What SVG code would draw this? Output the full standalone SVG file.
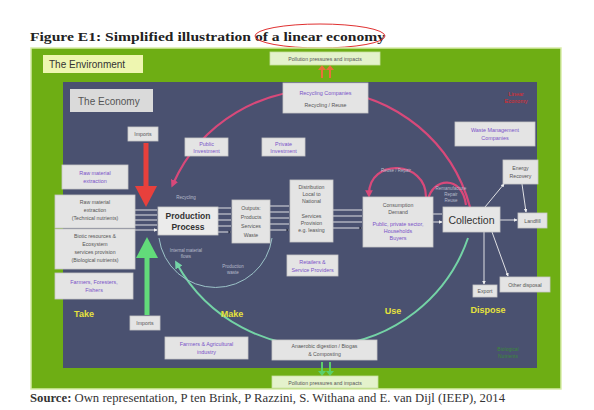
<svg xmlns="http://www.w3.org/2000/svg" width="594" height="410" viewBox="0 0 594 410">
<defs>
<style>
.t{font-family:"Liberation Sans",Arial,sans-serif;}
.box{fill:#e4e4e4;stroke:#c9c9c9;stroke-width:0.8;}
.sm{font-family:"Liberation Sans",Arial,sans-serif;font-size:5.2px;fill:#555;text-anchor:middle;}
.pu{font-family:"Liberation Sans",Arial,sans-serif;font-size:5.4px;fill:#7a52c8;text-anchor:middle;}
.yl{font-family:"Liberation Sans",Arial,sans-serif;font-size:9px;font-weight:bold;fill:#e6e23c;text-anchor:middle;}
.lt{font-family:"Liberation Sans",Arial,sans-serif;font-size:4.5px;fill:#b8bccc;text-anchor:middle;}
.wl{stroke:#f0f0f0;stroke-width:0.9;fill:none;}
.pk{stroke:#d8497a;stroke-width:2.2;fill:none;}
.gn{stroke:#74d3a6;stroke-width:2;fill:none;}
</style>
<marker id="wa" viewBox="0 0 6 6" refX="5" refY="3" markerWidth="4" markerHeight="4" orient="auto"><path d="M0,0L6,3L0,6z" fill="#f0f0f0"/></marker>
<marker id="da" viewBox="0 0 6 6" refX="5" refY="3" markerWidth="3.5" markerHeight="3.5" orient="auto"><path d="M0,0L6,3L0,6z" fill="#2a2f44"/></marker>
<marker id="pa" viewBox="0 0 6 6" refX="3" refY="3" markerWidth="3.5" markerHeight="3.5" orient="auto"><path d="M0,0L6,3L0,6z" fill="#d8497a"/></marker>
<marker id="ga" viewBox="0 0 6 6" refX="3" refY="3" markerWidth="4" markerHeight="4" orient="auto"><path d="M0,0L6,3L0,6z" fill="#74d3a6"/></marker>
</defs>
<rect x="0" y="0" width="594" height="410" fill="#ffffff"/>
<text x="30" y="41" font-family="Liberation Serif,serif" font-size="13.5" font-weight="bold" fill="#222" textLength="355" lengthAdjust="spacingAndGlyphs">Figure E1: Simplified illustration of a linear economy</text>
<ellipse cx="320" cy="36" rx="65" ry="12" fill="none" stroke="#e03030" stroke-width="1"/>
<rect x="31" y="48" width="530" height="341" fill="#6eae14" stroke="#d8eca8" stroke-width="1.5"/>
<rect x="63" y="82" width="474" height="286" fill="#4a5170"/>
<g id="connectors">
<path class="pk" d="M470,207 A158,158 0 0 0 173,184" marker-end="url(#pa)"/>
<path class="gn" d="M468,238 A160,160 0 0 1 177,264" marker-end="url(#ga)"/>
<path d="M159,238 A57,57 0 0 0 272,238" fill="none" stroke="#9cc3c8" stroke-width="1"/>
<path class="pk" d="M426,197 C426,160 369,158 369,194" marker-end="url(#pa)" stroke-width="1.8"/>
<path class="pk" d="M428,200 C432,178 462,174 466,205" stroke-width="1.8"/>
<path d="M146,143 V188" stroke="#e8403c" stroke-width="5" fill="none"/>
<path d="M135,186 L157,186 L146,207 Z" fill="#e8403c"/>
<path d="M147,315 V256" stroke="#62db7a" stroke-width="5" fill="none"/>
<path d="M136,258 L158,258 L147,237 Z" fill="#62db7a"/>
<path d="M322,78 V69 M330,78 V69" stroke="#e8703a" stroke-width="2" fill="none"/>
<path d="M318,70 L322,65 L326,70 Z M326,70 L330,65 L334,70 Z" fill="#e8703a"/>
<path d="M322,362 V372 M330,362 V372" stroke="#5cd06a" stroke-width="2" fill="none"/>
<path d="M318,371 L322,376 L326,371 Z M326,371 L330,376 L334,371 Z" fill="#5cd06a"/>
<g class="wl">
<path d="M135,210 H157 M135,215 H157 M135,220 H157 M135,225 H157 M135,230 H157" marker-end="url(#wa)"/>
<path d="M218,208 H231 M218,214 H231 M218,220 H231 M218,226 H231 M218,232 H231" marker-end="url(#da)"/>
<path d="M270,206 H289 M270,212 H289 M270,218 H289 M270,224 H289 M270,230 H289" marker-end="url(#da)"/>
<path d="M333,210 H362 M333,216 H362 M333,222 H362 M333,228 H362" marker-end="url(#da)"/>
<path d="M433,214 H442 M433,222 H442" marker-end="url(#wa)"/>
<path d="M485,207 L504,184" marker-end="url(#wa)"/>
<path d="M522,184 L526,212" marker-end="url(#wa)"/>
<path d="M500,220 H517" marker-end="url(#wa)"/>
<path d="M484,232 V284" marker-end="url(#wa)"/>
<path d="M492,232 L508,276" marker-end="url(#wa)"/>
</g>
</g>
<g id="the-environment"><rect x="43" y="55" width="100" height="18" fill="#eef6b0"/><text class="t" x="49" y="68" font-size="10" fill="#333">The Environment</text></g>
<g id="the-economy"><rect x="70" y="89" width="83" height="23" fill="#dadada"/><text class="t" x="78" y="105" font-size="10" fill="#555">The Economy</text></g>
<g id="pollution-top"><rect x="270" y="52" width="110" height="13" fill="#e4f2cc" stroke="#c8e0a0" stroke-width="0.8"/><text class="sm" x="325" y="61">Pollution pressures and impacts</text></g>
<g id="recycling-companies"><rect class="box" x="283" y="83" width="85" height="30"/><text class="pu" x="325.5" y="95" font-size="6">Recycling Companies</text><text class="sm" x="325.5" y="107" font-size="6">Recycling / Reuse</text></g>
<g id="linear-label"><text class="t" x="516" y="96" font-size="5.5" fill="#e02828" text-anchor="middle">Linear</text><text class="t" x="516" y="103" font-size="5.5" fill="#e02828" text-anchor="middle">Economy</text></g>
<g id="imports-top"><rect class="box" x="128" y="127" width="30" height="14"/><text class="sm" x="143" y="136">Imports</text></g>
<g id="public-investment"><rect class="box" x="185" y="138" width="43" height="18"/><text class="pu" x="206.5" y="146">Public</text><text class="pu" x="206.5" y="153">Investment</text></g>
<g id="private-investment"><rect class="box" x="262" y="138" width="43" height="18"/><text class="pu" x="283.5" y="146">Private</text><text class="pu" x="283.5" y="153">Investment</text></g>
<g id="waste-management"><rect class="box" x="455" y="122" width="80" height="24"/><text class="pu" x="495" y="132" font-size="6">Waste Management</text><text class="pu" x="495" y="140" font-size="6">Companies</text></g>
<g id="raw-extraction-actors"><rect class="box" x="62" y="165" width="66" height="24"/><text class="pu" x="95" y="175">Raw material</text><text class="pu" x="95" y="183">extraction</text></g>
<g id="raw-extraction"><rect class="box" x="55" y="195" width="80" height="33"/><text class="sm" x="95" y="204">Raw material</text><text class="sm" x="95" y="212">extraction</text><text class="sm" x="95" y="220">(Technical nutrients)</text></g>
<g id="biotic"><rect class="box" x="55" y="229" width="80" height="40"/><text class="sm" x="95" y="238">Biotic resources &amp;</text><text class="sm" x="95" y="246">Ecosystem</text><text class="sm" x="95" y="254">services provision</text><text class="sm" x="95" y="262">(Biological nutrients)</text></g>
<g id="farmers-foresters"><rect class="box" x="55" y="273" width="78" height="26"/><text class="pu" x="94" y="284">Farmers, Foresters,</text><text class="pu" x="94" y="292">Fishers</text></g>
<g id="production"><rect x="158" y="207" width="60" height="28" fill="#ebebeb" stroke="#c9c9c9" stroke-width="0.8"/><text class="t" x="188" y="219" font-size="8.5" font-weight="bold" fill="#333" text-anchor="middle">Production</text><text class="t" x="188" y="230" font-size="8.5" font-weight="bold" fill="#333" text-anchor="middle">Process</text></g>
<text class="lt" x="186" y="199">Recycling</text>
<text class="lt" x="186" y="252">Internal material</text>
<text class="lt" x="186" y="258">flows</text>
<text class="lt" x="233" y="268">Production</text>
<text class="lt" x="233" y="274">waste</text>
<text class="lt" x="396" y="172" fill="#dde">Reuse / Repair</text>
<text class="lt" x="451" y="190" fill="#dde">Remanufacture</text>
<text class="lt" x="451" y="196" fill="#dde">Repair</text>
<text class="lt" x="451" y="202" fill="#dde">Reuse</text>
<g id="outputs"><rect class="box" x="232" y="200" width="38" height="43"/><text class="sm" x="251" y="210">Outputs:</text><text class="sm" x="251" y="219">Products</text><text class="sm" x="251" y="228">Services</text><text class="sm" x="251" y="237">Waste</text></g>
<g id="distribution"><rect class="box" x="290" y="180" width="43" height="62"/><text class="sm" x="311.5" y="189">Distribution</text><text class="sm" x="311.5" y="196">Local to</text><text class="sm" x="311.5" y="203">National</text><text class="sm" x="311.5" y="218">Services</text><text class="sm" x="311.5" y="225">Provision</text><text class="sm" x="311.5" y="232">e.g. leasing</text></g>
<g id="retailers"><rect class="box" x="287" y="255" width="51" height="21"/><text class="pu" x="312.5" y="264">Retailers &amp;</text><text class="pu" x="312.5" y="272">Service Providers</text></g>
<g id="consumption"><rect class="box" x="363" y="197" width="70" height="50"/><text class="sm" x="398" y="207">Consumption</text><text class="sm" x="398" y="214">Demand</text><text class="pu" x="398" y="226">Public, private sector,</text><text class="pu" x="398" y="233">Households</text><text class="pu" x="398" y="240">Buyers</text></g>
<g id="collection"><rect x="443" y="207" width="57" height="25" fill="#e6e6e6" stroke="#c9c9c9" stroke-width="0.8"/><text class="t" x="471.5" y="223.5" font-size="10.5" fill="#333" text-anchor="middle">Collection</text></g>
<g id="energy-recovery"><rect class="box" x="503" y="160" width="35" height="24"/><text class="sm" x="520.5" y="170">Energy</text><text class="sm" x="520.5" y="178">Recovery</text></g>
<g id="landfill"><rect class="box" x="518" y="213" width="29" height="15"/><text class="sm" x="532.5" y="222.5">Landfill</text></g>
<g id="export"><rect class="box" x="473" y="285" width="24" height="12"/><text class="sm" x="485" y="293">Export</text></g>
<g id="other-disposal"><rect class="box" x="500" y="277" width="50" height="15"/><text class="sm" x="525" y="286.5">Other disposal</text></g>
<g id="imports-bottom"><rect class="box" x="130" y="316" width="30" height="14"/><text class="sm" x="145" y="325">Imports</text></g>
<g id="farmers-agri"><rect class="box" x="165" y="337" width="83" height="22"/><text class="pu" x="206.5" y="346">Farmers &amp; Agricultural</text><text class="pu" x="206.5" y="354">industry</text></g>
<g id="composting"><rect class="box" x="272" y="340" width="105" height="20"/><text class="sm" x="324.5" y="348">Anaerobic digestion / Biogas</text><text class="sm" x="324.5" y="356">&amp; Composting</text></g>
<g id="pollution-bottom"><rect x="272" y="376" width="106" height="12" fill="#e4f2cc" stroke="#c8e0a0" stroke-width="0.8"/><text class="sm" x="325" y="384.5">Pollution pressures and impacts</text></g>
<text class="yl" x="84" y="317">Take</text>
<text class="yl" x="232" y="317">Make</text>
<text class="yl" x="393" y="314">Use</text>
<text class="yl" x="488" y="313">Dispose</text>
<text class="t" x="508" y="351" font-size="5" fill="#3a8a3a" text-anchor="middle">Biological</text>
<text class="t" x="508" y="358" font-size="5" fill="#3a8a3a" text-anchor="middle">Nutrients</text>
<text x="30" y="402" font-family="Liberation Serif,serif" font-size="11.5" fill="#333" textLength="475" lengthAdjust="spacingAndGlyphs"><tspan font-weight="bold">Source:</tspan> Own representation, P ten Brink, P Razzini, S. Withana and E. van Dijl (IEEP), 2014</text>
</svg>
